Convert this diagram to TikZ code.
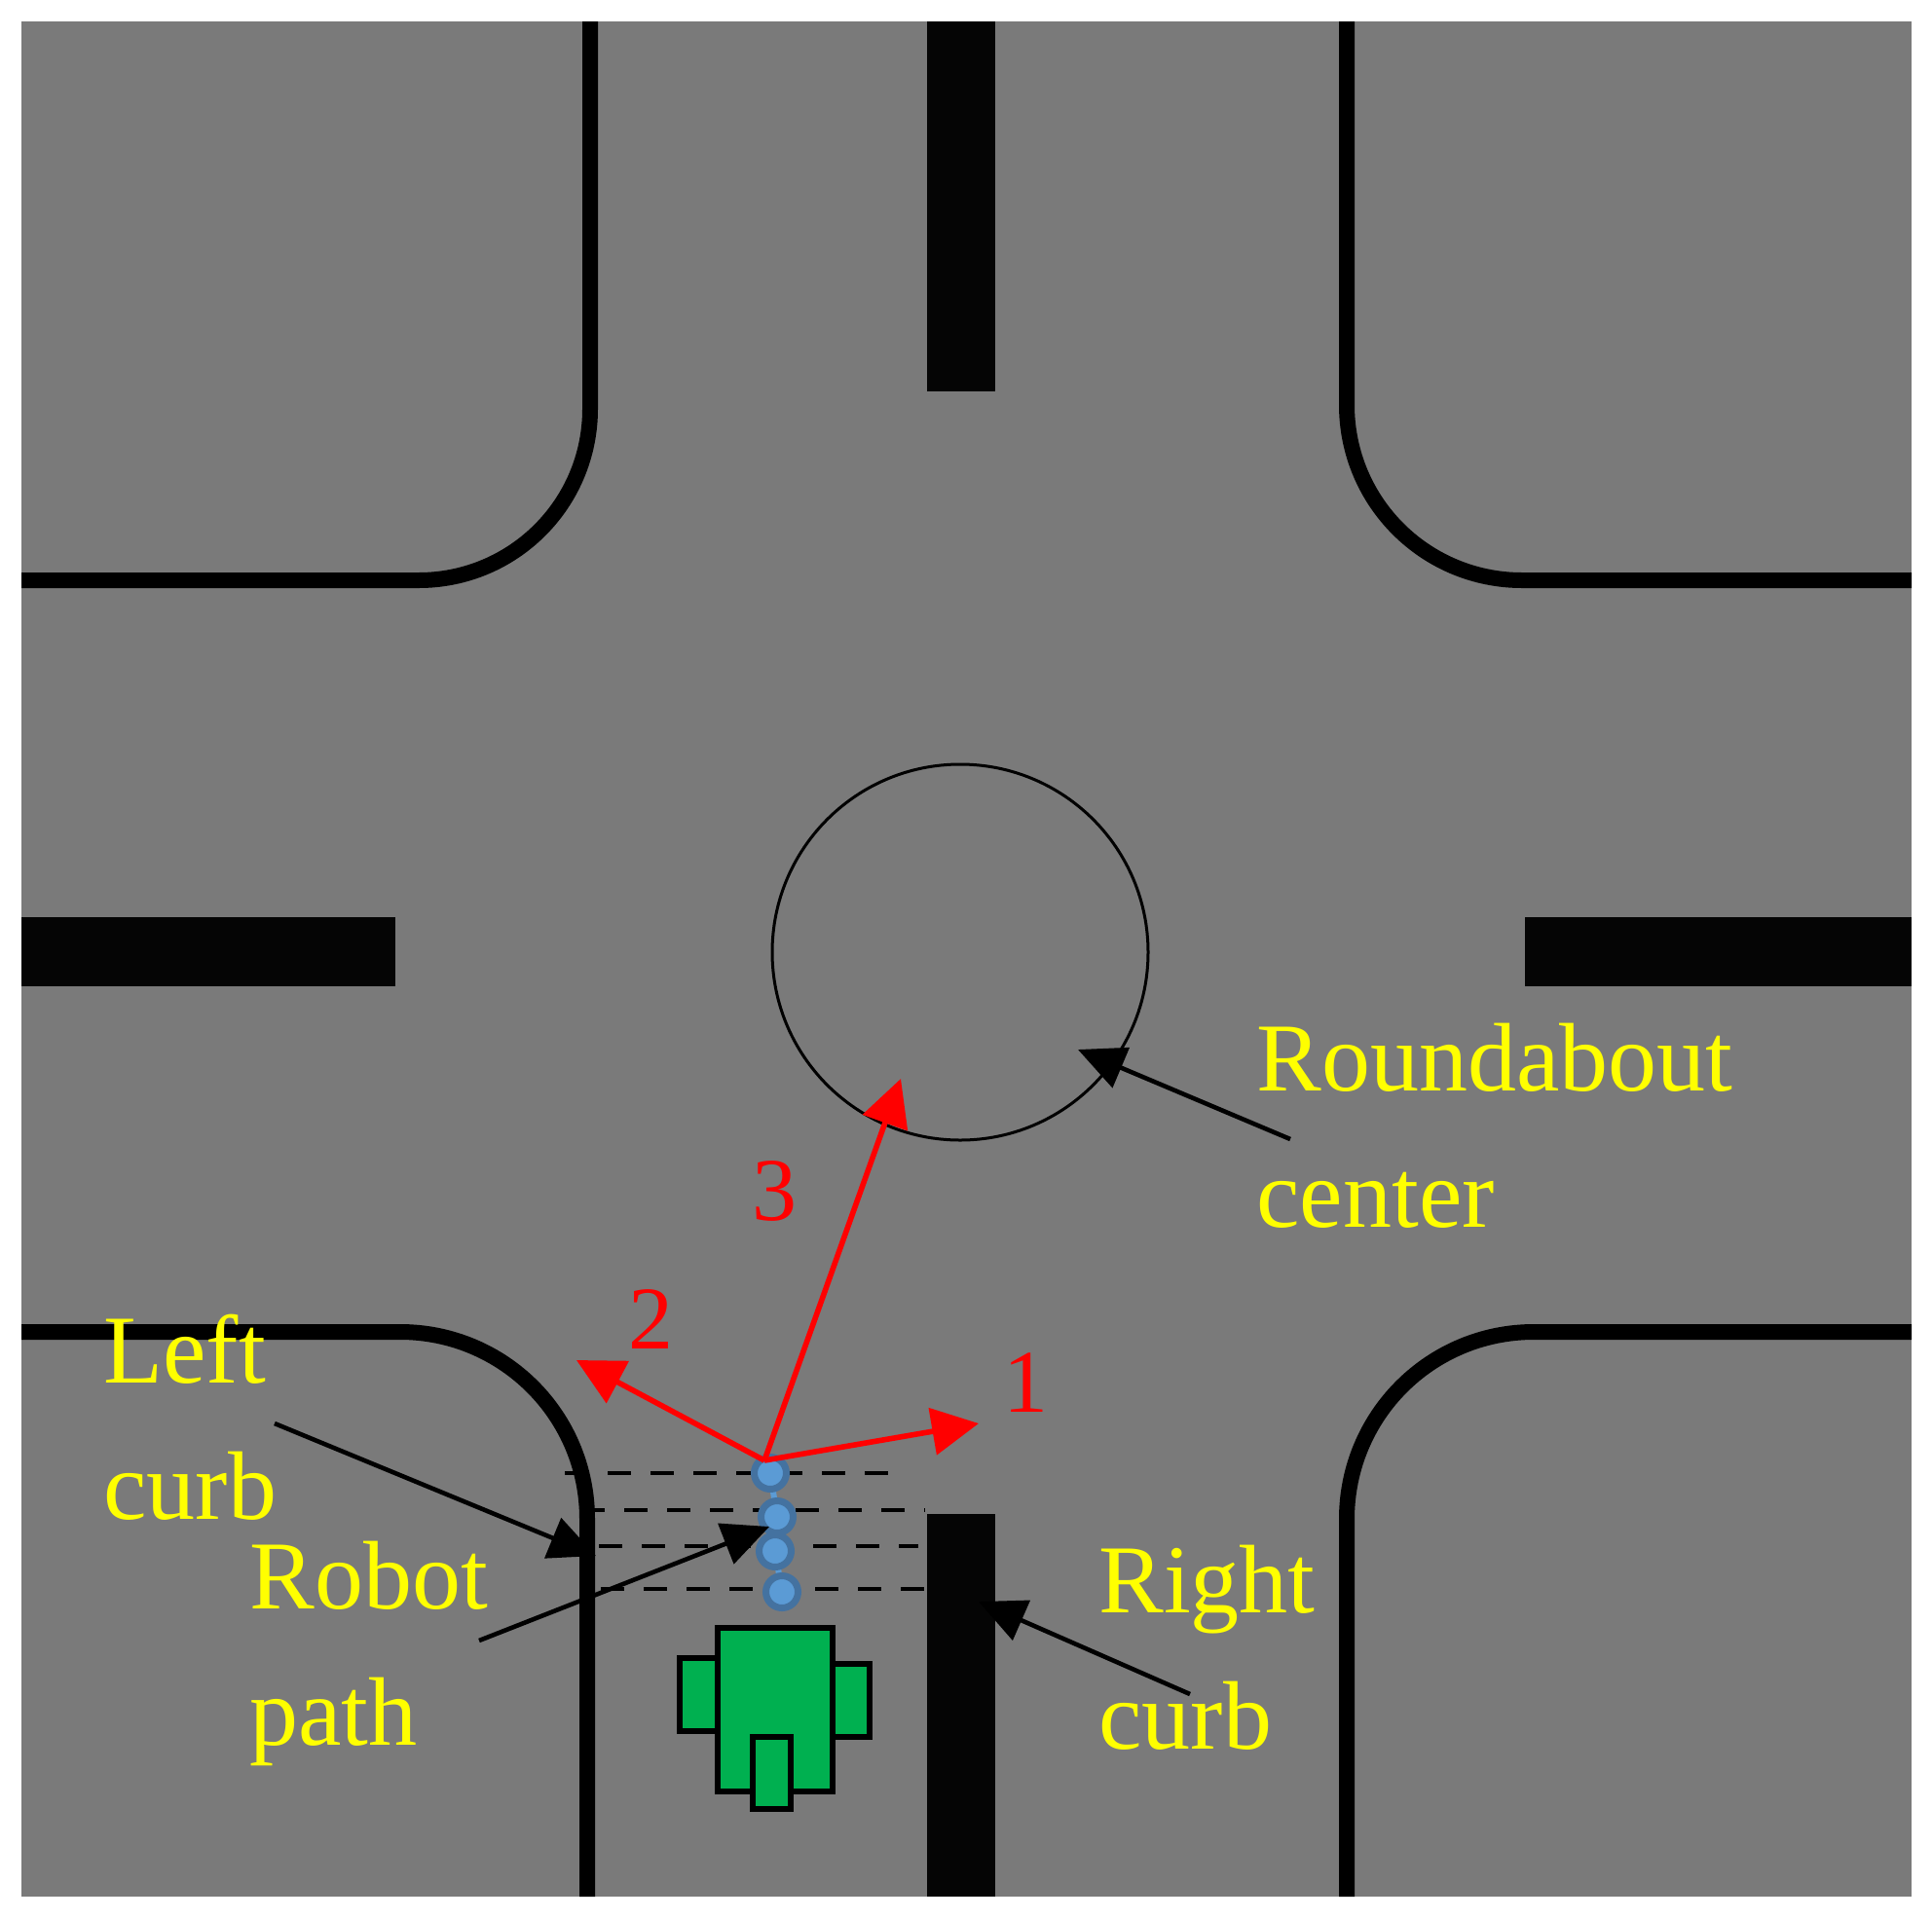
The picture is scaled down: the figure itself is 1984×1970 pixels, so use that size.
\documentclass[tikz,border=0pt]{standalone}
\usepackage{fontspec}
\setmainfont{Liberation Serif}
\usetikzlibrary{arrows.meta}
\definecolor{road}{RGB}{122,122,122}
\definecolor{robgreen}{RGB}{0,176,80}
\definecolor{dotout}{RGB}{68,114,160}
\definecolor{dotin}{RGB}{91,155,213}
\definecolor{txt}{RGB}{255,255,0}
\tikzset{
  curb/.style={line width=8pt},
  lane/.style={fill=black!98},
  lab/.style={anchor=base west,text=txt,font=\fontsize{50}{60}\selectfont,inner sep=0},
  num/.style={anchor=base west,text=red,font=\fontsize{46}{56}\selectfont,inner sep=0},
  redarr/.style={red,line width=2.8pt,-{Triangle[length=24pt,width=24pt]}},
  blkarr/.style={black,line width=2.3pt,-{Triangle[length=24pt,width=22pt]}},
  dashln/.style={line width=2.2pt,dash pattern=on 12pt off 10pt},
  dot/.style={circle,fill=dotin,draw=dotout,line width=3.5pt,minimum size=16.5pt,inner sep=0},
  rob/.style={fill=robgreen,draw=black,line width=2.8pt}
}
\begin{document}
\begin{tikzpicture}[x=0.5pt,y=-0.5pt]
\useasboundingbox (0,0) rectangle (1984,1970);
\fill[white] (0,0) rectangle (1984,1970);
\fill[road] (22,22) rectangle (1963,1948);
% curbs
\draw[curb] (606,22)--(606,420) arc[start angle=0,end angle=90,radius=176] -- (22,596);
\draw[curb] (1383,22)--(1383,416) arc[start angle=180,end angle=90,radius=180] -- (1963,596);
\draw[curb] (22,1368)--(411,1368) arc[start angle=-90,end angle=0,radius=192] -- (603,1948);
\draw[curb] (1963,1368)--(1575,1368) arc[start angle=-90,end angle=-180,radius=192] -- (1383,1948);
% lane dividers
\fill[lane] (952,22) rectangle (1022,402);
\fill[lane] (952,1555) rectangle (1022,1948);
\fill[lane] (22,942) rectangle (406,1013);
\fill[lane] (1566,942) rectangle (1963,1013);
% roundabout
\node[circle,draw=black,line width=1.5pt,minimum size=193pt,inner sep=0] (rc) at (986,978) {};
% dashed lines
\draw[dashln] (580,1513)--(932,1513);
\draw[dashln] (597,1551)--(950,1551);
\draw[dashln] (615,1588)--(943,1588);
\draw[dashln] (617,1632)--(967,1632);
% robot
\draw[rob] (698,1703) rectangle (737,1778);
\draw[rob] (855,1709) rectangle (893,1784);
\draw[rob] (737,1672) rectangle (855,1840);
\draw[rob] (773,1784) rectangle (812,1858);
% path
\draw[dotin,line width=3pt] (791,1513)--(798,1558)--(796,1593)--(803,1635);
\node[dot] (d1) at (791,1513) {};
\node[dot] (d2) at (798,1558) {};
\node[dot] (d3) at (796,1593) {};
\node[dot] (d4) at (803,1635) {};
% red arrows
\coordinate (o) at (785,1500);
\coordinate (a1) at (1005,1462);
\coordinate (a2) at (592,1397);
\coordinate (a3) at (925,1108);
\draw[redarr] (o)--(a1);
\draw[redarr] (o)--(a2);
\draw[redarr] (o)--(a3);
\node[num] (n1) at (1030,1450) {1};
\node[num] (n2) at (645,1385) {2};
\node[num] (n3) at (772,1253) {3};
% labels
\node[lab] (t1) at (1290,1120) {Roundabout};
\node[lab] (t2) at (1290,1260) {center};
\node[lab] (t3) at (106,1420) {Left};
\node[lab] (t4) at (106,1560) {curb};
\node[lab] (t5) at (256,1652) {Robot};
\node[lab] (t6) at (256,1792) {path};
\node[lab] (t7) at (1128,1656) {Right};
\node[lab] (t8) at (1128,1796) {curb};
\coordinate (b1s) at (1325,1170); \coordinate (b1e) at (1107,1078);
\coordinate (b2s) at (282,1462);  \coordinate (b2e) at (612,1598);
\coordinate (b3s) at (492,1685);  \coordinate (b3e) at (790,1568);
\coordinate (b4s) at (1222,1740); \coordinate (b4e) at (1005,1645);
\draw[blkarr] (b1s)--(b1e);
\draw[blkarr] (b2s)--(b2e);
\draw[blkarr] (b3s)--(b3e);
\draw[blkarr] (b4s)--(b4e);
\end{tikzpicture}
\end{document}
